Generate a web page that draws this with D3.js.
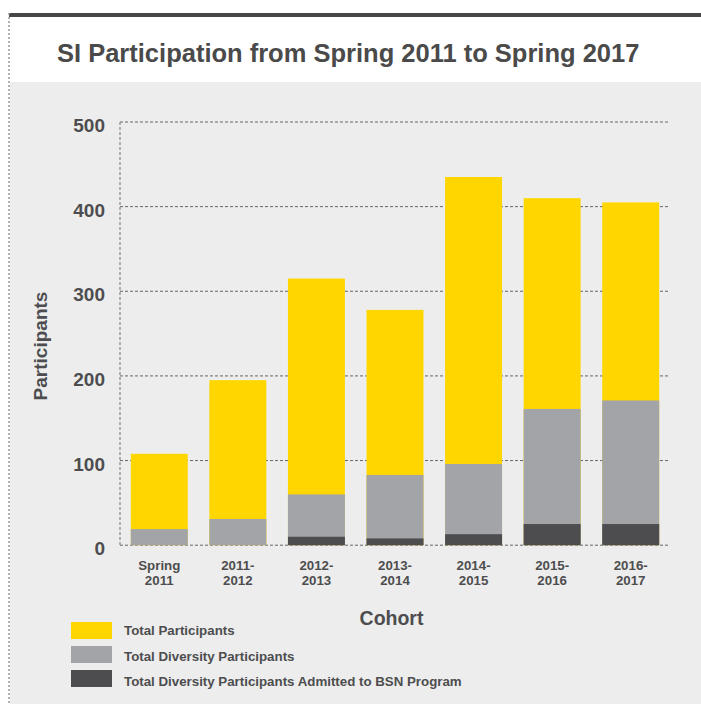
<!DOCTYPE html>
<html>
<head>
<meta charset="utf-8">
<script src="https://cdn.jsdelivr.net/npm/d3@7"></script>
<style>
  html, body { margin: 0; padding: 0; background: #ffffff; }
  svg { display: block; }
  text { font-family: "Liberation Sans", Arial, Helvetica, sans-serif; font-weight: bold; fill: #4d4d4f; }
</style>
</head>
<body>
<script>
// ---- data ----
const cohortLine1 = ["Spring", "2011-", "2012-", "2013-", "2014-", "2015-", "2016-"];
const cohortLine2 = ["2011", "2012", "2013", "2014", "2015", "2016", "2017"];
const totalParticipants = [108, 195, 315, 278, 435, 410, 405];
const diversityParticipants = [19, 31, 60, 83, 96, 161, 171];
const admittedBSN = [0, 0, 10, 8, 13, 25, 25];
const yTicks = [0, 100, 200, 300, 400, 500];
const seriesNames = ["Total Participants", "Total Diversity Participants", "Total Diversity Participants Admitted to BSN Program"];
const seriesColors = ["#FFD600", "#A3A4A7", "#4D4D4F"];

const W = 701, H = 704;
const svg = d3.select("body").append("svg").attr("width", W).attr("height", H);

// frame
svg.append("rect").attr("x", 10).attr("y", 82).attr("width", W - 10).attr("height", H - 82).attr("fill", "#ededed");
svg.append("rect").attr("x", 9).attr("y", 13).attr("width", W - 9).attr("height", 4).attr("fill", "#474747");
svg.append("line").attr("x1", 9).attr("x2", 9).attr("y1", 13).attr("y2", H)
  .attr("stroke", "#999").attr("stroke-width", 1.5).attr("stroke-dasharray", "2,2");

// title
svg.append("text").attr("x", 57).attr("y", 62).style("font-size", "25.5px").style("fill", "#4a4a4a")
  .text("SI Participation from Spring 2011 to Spring 2017");

const cohorts = cohortLine1.map((d, i) => d + " " + cohortLine2[i]);
const x = d3.scaleBand().domain(cohorts).range([120, 670]).paddingInner(0.275).paddingOuter(0.1375);
const y = d3.scaleLinear().domain([0, 500]).range([545.2, 122]);

// gridlines
svg.append("g").selectAll("line").data(yTicks).join("line")
  .attr("x1", 120).attr("x2", 670)
  .attr("y1", d => y(d)).attr("y2", d => y(d))
  .attr("stroke", "#666").attr("stroke-width", 1).attr("stroke-dasharray", "3,2");
svg.append("line").attr("x1", 120).attr("x2", 120).attr("y1", y(500)).attr("y2", y(0))
  .attr("stroke", "#888").attr("stroke-width", 1.2).attr("stroke-dasharray", "3,2");

// y tick labels
svg.append("g").selectAll("text").data(yTicks).join("text")
  .attr("x", 105).attr("y", d => y(d) + 10)
  .attr("text-anchor", "end").style("font-size", "19px")
  .text(d => d);

// bars (overlaid: each series is a subset of the previous one)
const seriesData = [totalParticipants, diversityParticipants, admittedBSN];
seriesData.forEach((vals, s) => {
  svg.append("g").selectAll("rect").data(vals).join("rect")
    .attr("x", (d, i) => x(cohorts[i]))
    .attr("width", x.bandwidth())
    .attr("y", d => y(d))
    .attr("height", d => y(0) - y(d))
    .attr("fill", seriesColors[s]);
});

// x tick labels
const xl = svg.append("g").selectAll("text").data(cohorts).join("text")
  .attr("text-anchor", "middle").style("font-size", "13.3px");
xl.append("tspan").attr("x", d => x(d) + x.bandwidth() / 2).attr("y", 569.5).text((d, i) => cohortLine1[i]);
xl.append("tspan").attr("x", d => x(d) + x.bandwidth() / 2).attr("y", 585).text((d, i) => cohortLine2[i]);

// axis titles
svg.append("text").attr("x", 391.5).attr("y", 625).attr("text-anchor", "middle").style("font-size", "19.5px").text("Cohort");
svg.append("text").attr("transform", "translate(47,346) rotate(-90)").attr("text-anchor", "middle")
  .style("font-size", "19px").text("Participants");

// legend
const lg = svg.append("g").selectAll("g").data(seriesNames).join("g");
lg.append("rect").attr("x", 71).attr("y", (d, i) => 622 + i * 24).attr("width", 41).attr("height", 17)
  .attr("fill", (d, i) => seriesColors[i]);
lg.append("text").attr("x", 124).attr("y", (d, i) => 635 + i * 25.5).style("font-size", "13.3px").text(d => d);
</script>
</body>
</html>
